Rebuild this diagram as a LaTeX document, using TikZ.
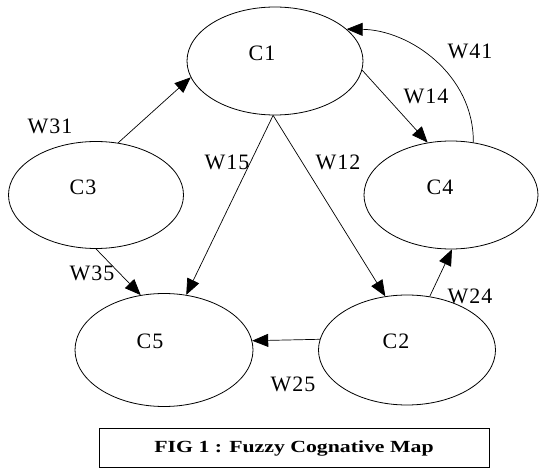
\documentclass[tikz,border=0pt]{standalone}
\usepackage{fontspec}
\usepackage{graphicx}
\setmainfont{Liberation Serif}
\usetikzlibrary{shapes.geometric,arrows.meta}
\begin{document}
\begin{tikzpicture}[x=1pt,y=-1pt,
  concept/.style={draw,ellipse,line width=0.8pt,inner sep=0pt},
  ctext/.style={font=\fontsize{22}{24}\selectfont\addfontfeature{LetterSpace=6},inner sep=0pt},
  wlabel/.style={font=\fontsize{22}{24}\selectfont\addfontfeature{LetterSpace=5},inner sep=0pt},
  link/.style={line width=0.7pt,-{Triangle[length=16pt,width=13pt]}},
  capbox/.style={draw,line width=1pt,inner sep=0pt,minimum width=390pt,minimum height=39pt}
]
\useasboundingbox (0,0) rectangle (539,473);

% concept ellipses
\node[concept,minimum width=176pt,minimum height=108pt] (c1) at (275,61) {};
\node[concept,minimum width=177pt,minimum height=110pt] (c2) at (407,350) {};
\node[concept,minimum width=175pt,minimum height=107pt] (c3) at (96,195) {};
\node[concept,minimum width=174pt,minimum height=108pt] (c4) at (451,195) {};
\node[concept,minimum width=178pt,minimum height=113pt] (c5) at (164,350) {};

% concept names, set a little up and left of each centre
\node[ctext] (t1) at ([shift={(-13,-8)}]c1.center) {C1};
\node[ctext] (t2) at ([shift={(-11,-9)}]c2.center) {C2};
\node[ctext] (t3) at ([shift={(-13,-8)}]c3.center) {C3};
\node[ctext] (t4) at ([shift={(-11,-8)}]c4.center) {C4};
\node[ctext] (t5) at ([shift={(-14,-9)}]c5.center) {C5};

% causal links
\draw[link] (c3.67) -- (c1.191);
\draw[link] (c1.354) -- (c4.114);
\draw[link] (c4.67) .. controls (474,75) and (410,30) .. (c1.24);
\draw[link] (c1.268) -- (c5.68);
\draw[link] (c1.268) -- (c2.112);
\draw[link] (c2.67) -- (c4.271);
\draw[link] (c2.173.5) -- (c5.6.5);
\draw[link] (c3.270) -- (c5.113);

% weights
\node[wlabel] (w31) at (50,126) {W31};
\node[wlabel] (w14) at (426,96) {W14};
\node[wlabel] (w41) at (470,51) {W41};
\node[wlabel] (w15) at (227,162) {W15};
\node[wlabel] (w12) at (338,162) {W12};
\node[wlabel] (w24) at (470,296) {W24};
\node[wlabel] (w25) at (293,384) {W25};
\node[wlabel] (w35) at (92,273) {W35};

% caption
\node[capbox] (cap) at (294,448.5)
  {\scalebox{1.28}[1]{\bfseries\fontsize{17}{20}\selectfont FIG 1 : Fuzzy Cognative Map}};
\end{tikzpicture}
\end{document}
